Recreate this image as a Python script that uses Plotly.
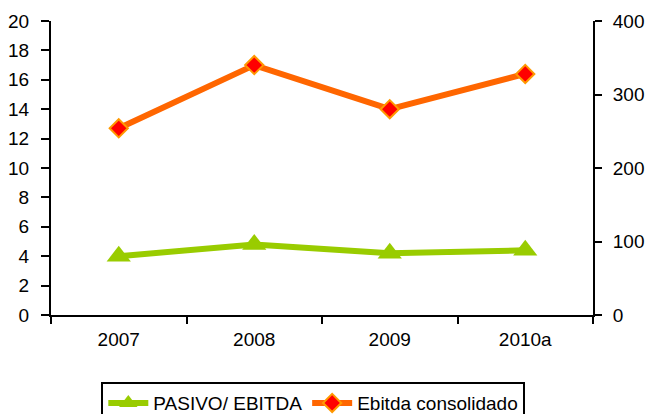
import plotly.graph_objects as go

years = ['2007', '2008', '2009', '2010a']
pasivo_ebitda = [4.0, 4.8, 4.2, 4.4]
ebitda_consolidado = [254, 340, 280, 328]

font = dict(family='Liberation Sans, Arial, sans-serif', size=19, color='black')

fig = go.Figure()

fig.add_trace(go.Scatter(
    x=years, y=pasivo_ebitda, name='PASIVO/ EBITDA',
    mode='lines+markers',
    line=dict(color='#99CC00', width=6),
    marker=dict(symbol='triangle-up', size=21, color='#99CC00'),
))

fig.add_trace(go.Scatter(
    x=years, y=ebitda_consolidado, name='Ebitda consolidado',
    mode='lines+markers', yaxis='y2',
    line=dict(color='#FF6600', width=6),
    marker=dict(symbol='diamond', size=14, color='#FF0000',
                line=dict(color='#FF9900', width=2)),
))

axis_style = dict(
    showline=True, linecolor='black', linewidth=2,
    tickcolor='black', tickwidth=2,
    showgrid=False, zeroline=False, automargin=False,
)

fig.update_layout(
    width=646, height=414,
    autosize=False,
    margin=dict(l=51, r=53, t=21, b=99, autoexpand=False),
    paper_bgcolor='white', plot_bgcolor='white',
    font=font,
    showlegend=True,
    xaxis=dict(
        type='category', range=[-0.5, 3.5],
        ticks='outside', tickson='boundaries', ticklen=7,
        ticklabelstandoff=6,
        **axis_style,
    ),
    yaxis=dict(
        range=[0, 20], dtick=2,
        ticks='outside', ticklen=8, ticklabelstandoff=8,
        **axis_style,
    ),
    yaxis2=dict(
        range=[0, 400], dtick=100, overlaying='y', side='right',
        ticks='outside', ticklen=7, ticklabelstandoff=7,
        **axis_style,
    ),
    legend=dict(
        orientation='h', xref='container', yref='container',
        x=0.485, xanchor='center', y=0.077, yanchor='top',
        bordercolor='black', borderwidth=2, bgcolor='white',
        font=font, itemwidth=40,
    ),
)

# page body has a default 8px margin; drop it so the chart sits at 0,0
fig.write_html("out.html", config={'displayModeBar': False},
               post_script="document.body.style.margin='0';")
